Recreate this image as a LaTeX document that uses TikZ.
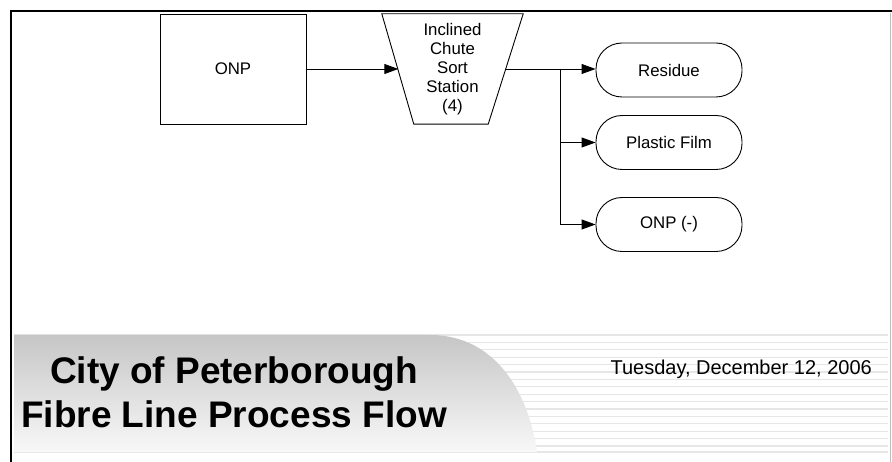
\documentclass[tikz,border=0pt]{standalone}
\usepackage{fontspec}
\setmainfont{Liberation Sans}
\usetikzlibrary{arrows.meta,calc}
\definecolor{stripe}{HTML}{E6E6E6}
\definecolor{bannertop}{HTML}{C6C6C6}
\definecolor{bannerbot}{HTML}{F8F8F8}
\begin{document}
\begin{tikzpicture}[x=1pt,y=-1pt,
  shapeline/.style={draw=black, line width=0.9pt},
  boxtext/.style={font=\fontsize{16.8}{19}\selectfont, align=center},
  termbox/.style={shapeline, boxtext, rounded corners=26pt, minimum width=146pt, minimum height=54pt, inner sep=0pt},
  flow/.style={line width=0.9pt, -{Triangle[length=14pt,width=10pt]}},
  plainflow/.style={line width=0.9pt},
  stripeline/.style={draw=stripe, line width=1.2pt},
  titletext/.style={font=\fontsize{37}{44}\selectfont\bfseries, anchor=base, inner sep=0pt},
  datetext/.style={font=\fontsize{20}{24}\selectfont, anchor=base east, inner sep=0pt}]
\useasboundingbox (0,0) rectangle (892,462);
\fill[white] (0,0) rectangle (892,462);

% banner stripes
\foreach \k in {0,...,15} {
  \draw[stripeline] (14,335+7.4*\k) -- (888,335+7.4*\k);
}
\draw[stripeline] (14,452) -- (888,452);
% banner gray shape
\shade[top color=bannertop, bottom color=bannerbot]
  (14,335) -- (430,335) .. controls (497,335) and (529,395) .. (537,452) -- (14,452) -- cycle;

% frame
\draw[draw=black!25, line width=0.8pt] (890.5,13) -- (890.5,462);
\draw[line width=2pt] (11,462) -- (11,11) -- (892,11);

% title and date
\node[titletext] (t1) at (234,384) {City of Peterborough};
\node[titletext] (t2) at (234,427) {Fibre Line Process Flow};
\node[datetext] (date) at (872,375) {Tuesday, December 12, 2006};

% flowchart
\node[shapeline, boxtext, minimum width=146pt, minimum height=110pt, inner sep=0pt] (onp) at (233,69) {ONP};

\node[boxtext, minimum width=141pt, minimum height=110pt, inner sep=0pt] (sort) at (452.5,69) {Inclined\\Chute\\Sort\\Station\\(4)};
\draw[shapeline] (sort.north west) -- (sort.north east) -- ([xshift=-35pt]sort.south east) -- ([xshift=32pt]sort.south west) -- cycle;
\coordinate (sortin) at ($(sort.west)+(16.5pt,0)$);
\coordinate (sortout) at ($(sort.east)+(-17.5pt,0)$);
\coordinate (junc) at (560,69);

\node[termbox] (res) at (669,70) {Residue};
\node[termbox] (film) at (669,142.5) {Plastic Film};
\node[termbox] (onpm) at (669,224.5) {ONP (-)};

\draw[flow] (onp.east) -- (sortin);
\draw[plainflow] (sortout) -- (junc);
\draw[flow] (junc) -- (junc -| res.west);
\draw[flow] (junc) |- (film.west);
\draw[flow] (junc) |- (onpm.west);
\end{tikzpicture}
\end{document}
